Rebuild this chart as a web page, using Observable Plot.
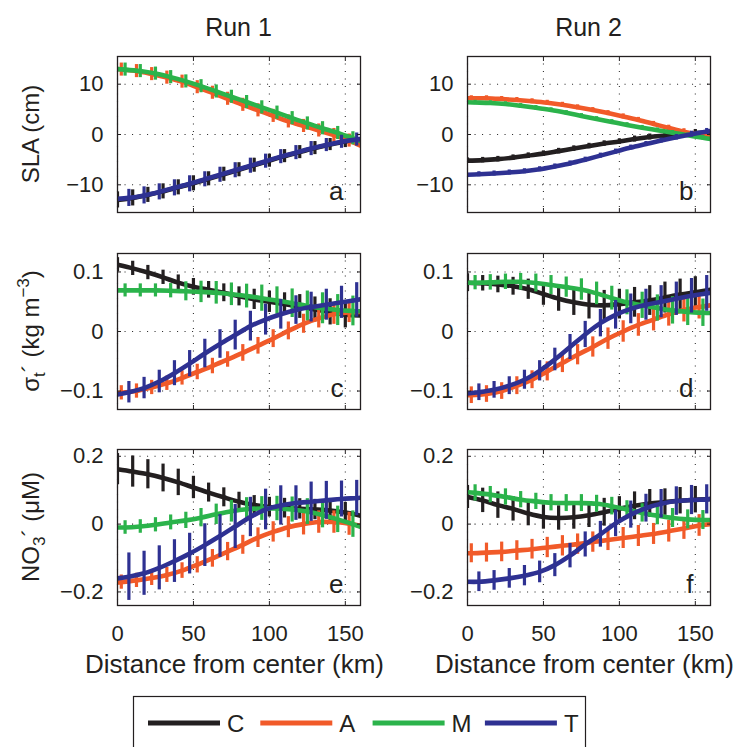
<!DOCTYPE html>
<html><head><meta charset="utf-8">
<script src="https://cdn.jsdelivr.net/npm/d3@7"></script>
<script src="https://cdn.jsdelivr.net/npm/@observablehq/plot@0.6"></script>
<style>
html,body{margin:0;padding:0;background:#fff}
body{width:733px;height:747px;overflow:hidden;position:relative;font-family:"Liberation Sans",Arial,sans-serif;color:#231f20}
.panel{position:absolute}
#overlay{position:absolute;left:0;top:0}
</style></head><body>
<div id="root"></div>
<script>
// ---------------- data ----------------
const xTicks = [0, 50, 100, 150];
const slaTicks = [-10, 0, 10];
const sigmaTicks = [-0.1, 0, 0.1];
const no3Ticks = [-0.2, 0, 0.2];
const slaDomain = [-15.5, 15.5];
const sigmaDomain = [-0.131, 0.131];
const no3Domain = [-0.24, 0.22];
const xDomain = [0, 160];

const seriesNames = ["C", "A", "M", "T"];
const seriesOffsets = [0, 2.5, 5, 7.5]; // km shift of each series' error-bar stations
const seriesColors = ["#231f20", "#f15a29", "#2bb34b", "#2e3192"];
const runTitles = ["Run 1", "Run 2"];
const panelLetters = ["a", "b", "c", "d", "e", "f"];

// values along the section: x = 0, off, off+10, ..., off+150, 160 (C: 0,10,...,160)
const a_mean = {
  C: [-13.0, -12.6, -12.0, -11.3, -10.5, -9.7, -8.8, -7.9, -7.0, -6.1, -5.2, -4.3, -3.5, -2.7, -2.0, -1.4, -1.0],
  A: [13.0, 12.9, 12.6, 12.0, 11.3, 10.5, 9.4, 8.3, 7.1, 5.9, 4.8, 3.7, 2.6, 1.7, 0.8, -0.1, -1.2, -2.2],
  M: [13.0, 12.9, 12.6, 12.1, 11.4, 10.55, 9.6, 8.55, 7.5, 6.45, 5.4, 4.35, 3.25, 2.2, 1.25, 0.3, -0.75, -1.3],
  T: [-12.8, -12.6, -12.1, -11.4, -10.6, -9.8, -8.9, -8.0, -7.1, -6.2, -5.3, -4.4, -3.6, -2.8, -2.1, -1.45, -1.0, -0.9]
};
const a_err = {
  C: [1.6, 1.6, 1.5, 1.5, 1.5, 1.5, 1.4, 1.4, 1.4, 1.4, 1.3, 1.3, 1.3, 1.3, 1.2, 1.2],
  A: [1.3, 1.3, 1.3, 1.3, 1.3, 1.3, 1.3, 1.3, 1.3, 1.3, 1.3, 1.3, 1.3, 1.3, 1.3, 1.3],
  M: [1.3, 1.3, 1.3, 1.3, 1.3, 1.3, 1.3, 1.3, 1.3, 1.3, 1.3, 1.3, 1.3, 1.3, 1.3, 1.3],
  T: [1.7, 1.7, 1.6, 1.6, 1.6, 1.5, 1.5, 1.5, 1.5, 1.4, 1.4, 1.4, 1.4, 1.3, 1.3, 1.3]
};
const b_mean = {
  C: [-5.2, -5.1, -4.9, -4.6, -4.2, -3.8, -3.3, -2.8, -2.3, -1.8, -1.4, -0.9, -0.5, -0.2, 0.1, 0.3, 0.4],
  A: [7.2, 7.2, 7.2, 7.05, 6.85, 6.6, 6.3, 5.9, 5.4, 4.85, 4.25, 3.6, 2.9, 2.1, 1.3, 0.55, 0.0, -0.3],
  M: [6.4, 6.35, 6.25, 6.05, 5.7, 5.3, 4.85, 4.3, 3.7, 3.1, 2.5, 1.9, 1.35, 0.85, 0.35, -0.15, -0.65, -0.9],
  T: [-8.0, -7.9, -7.75, -7.55, -7.3, -6.9, -6.35, -5.75, -5.0, -4.2, -3.4, -2.6, -1.9, -1.2, -0.55, 0.05, 0.6, 0.7]
};
const b_err = {
  C: [0.55, 0.55, 0.55, 0.55, 0.55, 0.55, 0.55, 0.55, 0.55, 0.55, 0.55, 0.6, 0.6, 0.7, 0.7, 0.7],
  A: [0.5, 0.5, 0.5, 0.5, 0.5, 0.5, 0.5, 0.5, 0.5, 0.5, 0.5, 0.5, 0.5, 0.55, 0.6, 0.6],
  M: [0.45, 0.45, 0.45, 0.45, 0.45, 0.45, 0.45, 0.45, 0.45, 0.45, 0.45, 0.45, 0.45, 0.45, 0.45, 0.45],
  T: [0.5, 0.5, 0.5, 0.5, 0.5, 0.5, 0.5, 0.5, 0.5, 0.5, 0.5, 0.5, 0.5, 0.55, 0.6, 0.6]
};
const c_mean = {
  C: [0.112, 0.106, 0.099, 0.091, 0.082, 0.075, 0.070, 0.065, 0.059, 0.054, 0.050, 0.046, 0.042, 0.037, 0.033, 0.028, 0.027],
  A: [-0.104, -0.103, -0.100, -0.094, -0.087, -0.078, -0.068, -0.058, -0.047, -0.036, -0.024, -0.012, 0.001, 0.013, 0.022, 0.029, 0.032, 0.033],
  M: [0.069, 0.069, 0.069, 0.069, 0.0685, 0.0675, 0.0665, 0.065, 0.0625, 0.0595, 0.056, 0.052, 0.0475, 0.043, 0.039, 0.036, 0.0345, 0.034],
  T: [-0.106, -0.102, -0.095, -0.084, -0.070, -0.054, -0.037, -0.021, -0.006, 0.009, 0.020, 0.029, 0.036, 0.041, 0.045, 0.049, 0.053, 0.054]
};
const c_err = {
  C: [0.012, 0.012, 0.012, 0.012, 0.013, 0.014, 0.014, 0.015, 0.016, 0.017, 0.018, 0.019, 0.020, 0.021, 0.022, 0.022],
  A: [0.012, 0.012, 0.012, 0.012, 0.012, 0.013, 0.013, 0.013, 0.014, 0.014, 0.015, 0.015, 0.016, 0.016, 0.017, 0.017],
  M: [0.011, 0.011, 0.011, 0.012, 0.016, 0.018, 0.019, 0.019, 0.020, 0.022, 0.023, 0.024, 0.025, 0.026, 0.026, 0.025],
  T: [0.018, 0.018, 0.019, 0.021, 0.022, 0.024, 0.024, 0.025, 0.025, 0.026, 0.025, 0.024, 0.025, 0.026, 0.027, 0.029]
};
const d_mean = {
  C: [0.082, 0.081, 0.079, 0.076, 0.071, 0.063, 0.055, 0.049, 0.045, 0.044, 0.046, 0.049, 0.052, 0.057, 0.062, 0.066, 0.070],
  A: [-0.107, -0.107, -0.105, -0.100, -0.091, -0.081, -0.067, -0.053, -0.039, -0.026, -0.012, 0.000, 0.011, 0.020, 0.029, 0.036, 0.041, 0.044],
  M: [0.082, 0.082, 0.0825, 0.0835, 0.0835, 0.0815, 0.078, 0.0745, 0.0705, 0.064, 0.056, 0.049, 0.044, 0.0395, 0.0355, 0.033, 0.0315, 0.031],
  T: [-0.104, -0.102, -0.098, -0.091, -0.081, -0.066, -0.047, -0.026, -0.005, 0.014, 0.028, 0.038, 0.045, 0.050, 0.055, 0.060, 0.064, 0.065]
};
const d_err = {
  C: [0.015, 0.013, 0.014, 0.015, 0.017, 0.019, 0.021, 0.022, 0.024, 0.025, 0.025, 0.025, 0.025, 0.026, 0.026, 0.026],
  A: [0.014, 0.014, 0.014, 0.015, 0.015, 0.016, 0.016, 0.017, 0.017, 0.018, 0.018, 0.019, 0.019, 0.020, 0.020, 0.020],
  M: [0.012, 0.013, 0.013, 0.014, 0.015, 0.016, 0.017, 0.018, 0.019, 0.020, 0.021, 0.022, 0.022, 0.023, 0.023, 0.023],
  T: [0.014, 0.014, 0.015, 0.016, 0.017, 0.019, 0.021, 0.022, 0.023, 0.024, 0.025, 0.026, 0.027, 0.028, 0.029, 0.030]
};
const e_mean = {
  C: [0.162, 0.155, 0.147, 0.136, 0.123, 0.108, 0.093, 0.079, 0.066, 0.056, 0.050, 0.047, 0.045, 0.043, 0.040, 0.034, 0.025],
  A: [-0.172, -0.171, -0.166, -0.159, -0.150, -0.137, -0.120, -0.101, -0.081, -0.061, -0.040, -0.023, -0.009, 0.000, 0.006, 0.006, 0.001, -0.005],
  M: [-0.010, -0.010, -0.007, -0.002, 0.005, 0.011, 0.019, 0.029, 0.038, 0.044, 0.046, 0.046, 0.043, 0.037, 0.027, 0.014, 0.000, -0.008],
  T: [-0.160, -0.155, -0.145, -0.129, -0.109, -0.087, -0.062, -0.035, -0.007, 0.021, 0.043, 0.055, 0.062, 0.066, 0.070, 0.074, 0.077, 0.078]
};
const e_err = {
  C: [0.046, 0.046, 0.043, 0.041, 0.039, 0.033, 0.028, 0.028, 0.028, 0.028, 0.029, 0.029, 0.030, 0.030, 0.030, 0.030],
  A: [0.021, 0.021, 0.022, 0.022, 0.023, 0.024, 0.026, 0.027, 0.028, 0.029, 0.030, 0.031, 0.032, 0.033, 0.033, 0.034],
  M: [0.020, 0.020, 0.021, 0.022, 0.024, 0.027, 0.030, 0.032, 0.034, 0.035, 0.036, 0.037, 0.038, 0.038, 0.039, 0.039],
  T: [0.070, 0.065, 0.065, 0.063, 0.060, 0.063, 0.063, 0.065, 0.058, 0.060, 0.058, 0.051, 0.058, 0.056, 0.053, 0.052]
};
const f_mean = {
  C: [0.080, 0.070, 0.056, 0.045, 0.031, 0.021, 0.018, 0.020, 0.026, 0.035, 0.045, 0.054, 0.061, 0.065, 0.069, 0.072, 0.074],
  A: [-0.086, -0.086, -0.084, -0.082, -0.078, -0.074, -0.069, -0.064, -0.059, -0.053, -0.047, -0.041, -0.035, -0.029, -0.021, -0.013, -0.004, 0.000],
  M: [0.094, 0.092, 0.087, 0.080, 0.072, 0.067, 0.063, 0.062, 0.062, 0.060, 0.053, 0.043, 0.033, 0.025, 0.018, 0.014, 0.012, 0.012],
  T: [-0.170, -0.170, -0.166, -0.160, -0.152, -0.141, -0.121, -0.093, -0.060, -0.030, 0.002, 0.028, 0.047, 0.060, 0.068, 0.071, 0.073, 0.074]
};
const f_err = {
  C: [0.034, 0.036, 0.039, 0.036, 0.036, 0.036, 0.036, 0.035, 0.036, 0.041, 0.036, 0.041, 0.041, 0.039, 0.039, 0.039],
  A: [0.028, 0.028, 0.029, 0.029, 0.029, 0.030, 0.030, 0.030, 0.030, 0.031, 0.031, 0.031, 0.031, 0.032, 0.032, 0.032],
  M: [0.024, 0.024, 0.024, 0.024, 0.024, 0.024, 0.025, 0.025, 0.025, 0.026, 0.026, 0.027, 0.027, 0.028, 0.028, 0.028],
  T: [0.029, 0.029, 0.029, 0.030, 0.032, 0.034, 0.036, 0.037, 0.038, 0.039, 0.040, 0.041, 0.042, 0.042, 0.043, 0.043]
};

// ---------------- layout ----------------
const FONT = '"Liberation Sans", Arial, Helvetica, sans-serif';
const INK = "#231f20";
const frameLeft = [117, 467];
const frameTop = [56, 253, 449];
const FW = 243, FH = 156;
const ML = 75, MR = 12, MT = 12, MB = 45;

const panels = [
  {mean: a_mean, err: a_err, domain: slaDomain, ticks: slaTicks},
  {mean: b_mean, err: b_err, domain: slaDomain, ticks: slaTicks},
  {mean: c_mean, err: c_err, domain: sigmaDomain, ticks: sigmaTicks},
  {mean: d_mean, err: d_err, domain: sigmaDomain, ticks: sigmaTicks},
  {mean: e_mean, err: e_err, domain: no3Domain, ticks: no3Ticks},
  {mean: f_mean, err: f_err, domain: no3Domain, ticks: no3Ticks}
];

const fmt = d => (d < 0 ? "\u2212" : "") + Math.abs(d);
const blank = () => "";

function stationsFor(off) {
  const xs = [];
  if (off > 0) xs.push(0);
  for (let k = 0; k < 16; k++) xs.push(off + 10 * k);
  xs.push(160);
  return xs;
}

const root = document.getElementById("root");

panels.forEach((p, i) => {
  const col = i % 2, row = Math.floor(i / 2);
  const marks = [
    Plot.gridX(xTicks, {stroke: "#333", strokeOpacity: 1, strokeWidth: 1.1, strokeDasharray: "1.1,6.4"}),
    Plot.gridY(p.ticks, {stroke: "#333", strokeOpacity: 1, strokeWidth: 1.1, strokeDasharray: "1.1,6.4"})
  ];
  seriesNames.forEach((s, j) => {
    const off = seriesOffsets[j];
    const xs = stationsFor(off);
    const vals = p.mean[s];
    const pts = xs.map((x, k) => ({x, y: vals[k]}));
    const first = off > 0 ? 1 : 0;
    const bars = p.err[s].map((e, k) => ({x: xs[first + k], lo: vals[first + k] - e, hi: vals[first + k] + e}));
    marks.push(Plot.ruleX(bars, {x: "x", y1: "lo", y2: "hi", stroke: seriesColors[j], strokeWidth: 3.2, clip: true}));
    marks.push(Plot.line(pts, {x: "x", y: "y", stroke: seriesColors[j], strokeWidth: 4.6, curve: "catmull-rom", clip: true}));
  });
  marks.push(
    Plot.frame({stroke: INK, strokeWidth: 1.3}),
    Plot.axisX(xTicks, {anchor: "bottom", tickSize: -4, tickPadding: 24, tickFormat: row === 2 ? fmt : blank, label: null, fontSize: 22, stroke: INK}),
    Plot.axisX(xTicks, {anchor: "top", tickSize: -4, tickFormat: blank, label: null, stroke: INK}),
    Plot.axisY(p.ticks, {anchor: "left", tickSize: -4, tickPadding: 18, tickFormat: fmt, label: null, fontSize: 22, stroke: INK}),
    Plot.axisY(p.ticks, {anchor: "right", tickSize: -4, tickFormat: blank, label: null, stroke: INK}),
    Plot.text([panelLetters[i]], {frameAnchor: "bottom-right", text: d => d, dx: -17, dy: -13, lineAnchor: "bottom", textAnchor: "end", fontSize: 26, fill: INK})
  );
  const svg = Plot.plot({
    width: FW + ML + MR, height: FH + MT + MB,
    marginLeft: ML, marginRight: MR, marginTop: MT, marginBottom: MB,
    x: {domain: xDomain},
    y: {domain: p.domain},
    style: {fontFamily: FONT, fontSize: "22px", color: INK, background: "transparent", overflow: "visible"},
    marks
  });
  const wrap = document.createElement("div");
  wrap.className = "panel";
  wrap.style.left = (frameLeft[col] - ML) + "px";
  wrap.style.top = (frameTop[row] - MT) + "px";
  wrap.appendChild(svg);
  root.appendChild(wrap);
});

// ---------------- titles, labels, legend ----------------
const ov = d3.create("svg").attr("id", "overlay").attr("width", 733).attr("height", 747)
  .attr("font-family", FONT).attr("fill", INK);

runTitles.forEach((t, c) => {
  ov.append("text").attr("x", frameLeft[c] + FW / 2).attr("y", 36).attr("text-anchor", "middle")
    .attr("font-size", 25).text(t);
  ov.append("text").attr("x", frameLeft[c] + FW / 2 - 4).attr("y", 673).attr("text-anchor", "middle")
    .attr("font-size", 26).text("Distance from center (km)");
});

function yLabel(row, build) {
  const t = ov.append("text")
    .attr("transform", `translate(39,${frameTop[row] + FH / 2}) rotate(-90)`)
    .attr("text-anchor", "middle").attr("font-size", 24);
  build(t);
}
yLabel(0, t => t.text("SLA (cm)"));
yLabel(1, t => {
  t.append("tspan").text("\u03c3");
  t.append("tspan").attr("dy", 6).attr("font-size", 17).text("t");
  t.append("tspan").attr("dy", -6).text("\u00b4 (kg m");
  t.append("tspan").attr("dy", -10).attr("font-size", 17).text("\u22123");
  t.append("tspan").attr("dy", 10).text(")");
});
yLabel(2, t => {
  t.append("tspan").text("NO");
  t.append("tspan").attr("dy", 6).attr("font-size", 17).text("3");
  t.append("tspan").attr("dy", -6).text("\u00b4 (\u03bcM)");
});

// legend
ov.append("rect").attr("x", 133.5).attr("y", 696.5).attr("width", 452).attr("height", 80)
  .attr("fill", "#fff").attr("stroke", INK).attr("stroke-width", 1.2);
seriesNames.forEach((s, j) => {
  const x0 = 148 + j * 112.3;
  ov.append("line").attr("x1", x0).attr("x2", x0 + 72).attr("y1", 723).attr("y2", 723)
    .attr("stroke", seriesColors[j]).attr("stroke-width", 5);
  ov.append("text").attr("x", x0 + 79).attr("y", 732).attr("font-size", 24).text(s);
});

document.body.appendChild(ov.node());
</script>
</body></html>
